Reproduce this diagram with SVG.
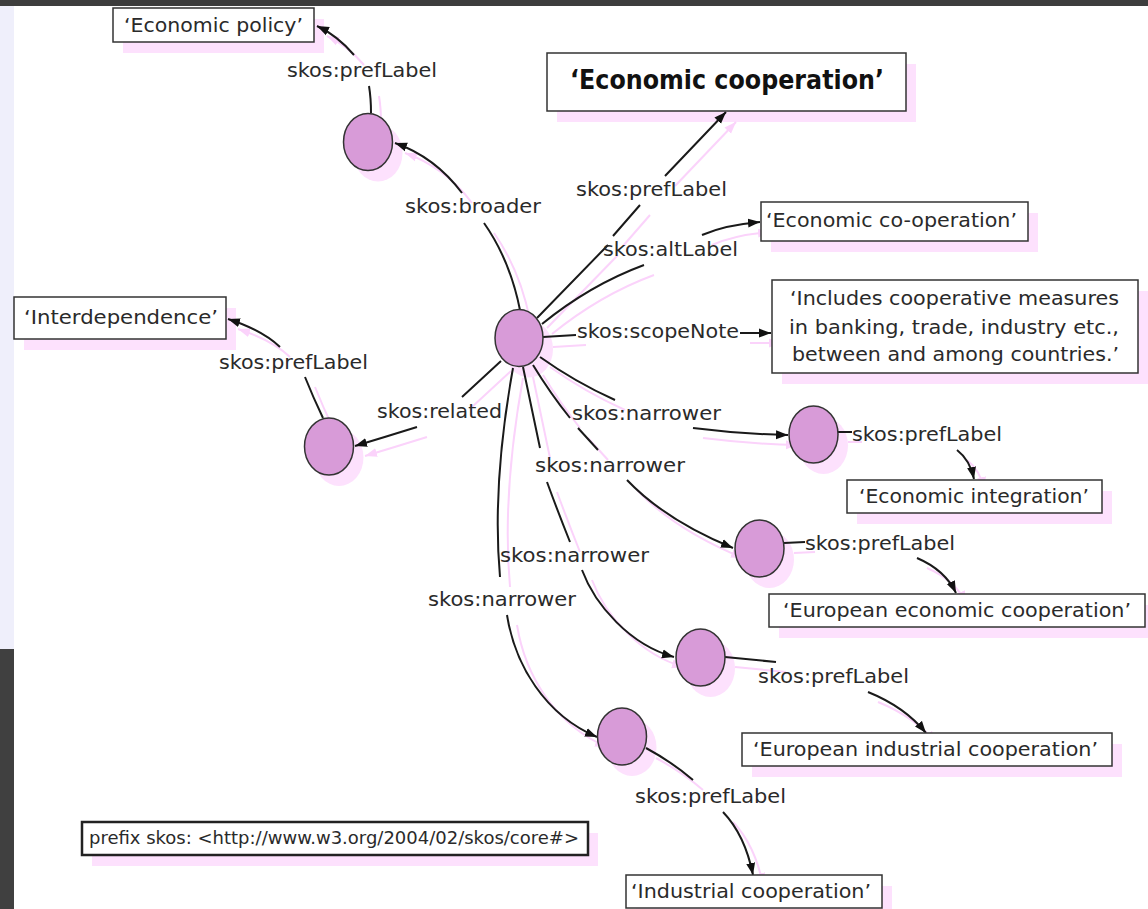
<svg xmlns="http://www.w3.org/2000/svg" xmlns:xlink="http://www.w3.org/1999/xlink" width="1148" height="909" viewBox="0 0 1148 909">
<style>
.t{font-family:"DejaVu Sans",Verdana,sans-serif;font-size:20px;fill:#2a2a2a}
.tb{font-family:"DejaVu Sans",Verdana,sans-serif;font-size:27px;font-weight:bold;fill:#111}
.tp{font-family:"DejaVu Sans",Verdana,sans-serif;font-size:17px;fill:#2a2a2a}
.box{fill:#fff;stroke:#333;stroke-width:1.5}
.node{fill:#d89bd8;stroke:#333;stroke-width:1.5}
.sh{fill:#fde1fd;stroke:none}
</style>
<defs>
<marker id="ah" markerUnits="userSpaceOnUse" markerWidth="12" markerHeight="10" viewBox="0 0 12 10" refX="12" refY="5" orient="auto">
<path d="M0 0.5 L12 5 L0 9.5 z" fill="#111"/>
</marker>
<marker id="ahp" markerUnits="userSpaceOnUse" markerWidth="12" markerHeight="10" viewBox="0 0 12 10" refX="12" refY="5" orient="auto">
<path d="M0 0.5 L12 5 L0 9.5 z" fill="#fbd3fb"/>
</marker>
</defs>

<rect x="0" y="0" width="1148" height="909" fill="#fff"/>
<rect x="0" y="0" width="1148" height="6" fill="#3d3d3d"/>
<rect x="0" y="6" width="14" height="643" fill="#efeffb"/>
<rect x="0" y="649" width="14" height="260" fill="#404040"/>

<g id="shadows">
<g class="sh" transform="translate(10,11)">
<rect x="113" y="8" width="201" height="34"/>
<rect x="547" y="53" width="359" height="58"/>
<rect x="761" y="202" width="267" height="39"/>
<rect x="772" y="280" width="366" height="93"/>
<rect x="14" y="297" width="212" height="42"/>
<rect x="847" y="480" width="255" height="33"/>
<rect x="769" y="594" width="376" height="33"/>
<rect x="742" y="733" width="370" height="33"/>
<rect x="626" y="875" width="256" height="33"/>
<rect x="82" y="822" width="506" height="33"/>
<ellipse cx="519" cy="338" rx="24" ry="28.5"/>
<ellipse cx="368" cy="142" rx="24.5" ry="28.5"/>
<ellipse cx="329" cy="446.5" rx="24.5" ry="28.5"/>
<ellipse cx="813.5" cy="434.5" rx="24.5" ry="28.5"/>
<ellipse cx="759.5" cy="548.5" rx="24.5" ry="28.5"/>
<ellipse cx="700.5" cy="657.5" rx="24.5" ry="28.5"/>
<ellipse cx="622" cy="736.5" rx="24.5" ry="28.5"/>
</g>
<g id="connector-shadows" transform="translate(10,10)" fill="none" stroke="#fbd3fb" stroke-width="2" marker-end="url(#ahp)">
<use href="#edges" xlink:href="#edges"/>
</g>
</g>

<g id="connectors" fill="none" stroke="#1a1a1a" stroke-width="2" marker-end="url(#ah)">
<g id="edges">
<path id="e-policy" d="M371 113 Q371 98 369 86 M354 55 Q338 36 317 26"/>
<path id="e-broader" d="M520 310 Q510 260 484 223 M462 193 Q435 157 395 143"/>
<path id="e-pref" d="M537 318 L608 245 M613 236 L640 205 M665 176 L726 112"/>
<path id="e-alt" d="M542 324 Q590 285 644 265 M702 235 Q725 225 760 222"/>
<path id="e-scope" d="M543 337 L576 335 M740 333 L771 333"/>
<path id="e-related" d="M501 361 L462 397 M417 427 Q385 437 355 446"/>
<path id="e-interdep" d="M323 418 Q313 397 305 377 M280 347 Q262 330 228 319"/>
<path id="e-n1" d="M540 357 Q575 382 615 400 M693 428 Q740 434 788 435"/>
<path id="e-n2" d="M533 365 Q550 393 570 418 M578 428 L598 450 M627 480 Q665 520 733 548"/>
<path id="e-n3" d="M523 367 L540 448 M547 482 Q558 512 570 542 M582 570 C595 605 630 645 674 657"/>
<path id="e-n4" d="M513 368 C500 440 494 510 500 577 M507 615 C515 665 545 715 597 737"/>
<path id="e-c-pref" d="M838 432 L852 432 M957 450 Q970 460 974 479"/>
<path id="e-d-pref" d="M784 543 L805 542 M917 558 Q945 570 956 593"/>
<path id="e-e-pref" d="M725 657 L776 662 M868 692 Q905 707 926 733"/>
<path id="e-f-pref" d="M646 748 Q672 762 693 780 M723 812 Q745 835 753 875"/>
</g>
</g>

<g id="edge-labels" class="t">
<text x="287" y="77" textLength="150" lengthAdjust="spacingAndGlyphs">skos:prefLabel</text>
<text x="405" y="213" textLength="136" lengthAdjust="spacingAndGlyphs">skos:broader</text>
<text x="576" y="196" textLength="151" lengthAdjust="spacingAndGlyphs">skos:prefLabel</text>
<text x="603" y="256" textLength="135" lengthAdjust="spacingAndGlyphs">skos:altLabel</text>
<text x="577" y="338" textLength="162" lengthAdjust="spacingAndGlyphs">skos:scopeNote</text>
<text x="219" y="369" textLength="149" lengthAdjust="spacingAndGlyphs">skos:prefLabel</text>
<text x="377" y="418" textLength="125" lengthAdjust="spacingAndGlyphs">skos:related</text>
<text x="572" y="420" textLength="149" lengthAdjust="spacingAndGlyphs">skos:narrower</text>
<text x="852" y="441" textLength="150" lengthAdjust="spacingAndGlyphs">skos:prefLabel</text>
<text x="535" y="472" textLength="150" lengthAdjust="spacingAndGlyphs">skos:narrower</text>
<text x="805" y="550" textLength="150" lengthAdjust="spacingAndGlyphs">skos:prefLabel</text>
<text x="500" y="562" textLength="149" lengthAdjust="spacingAndGlyphs">skos:narrower</text>
<text x="428" y="606" textLength="148" lengthAdjust="spacingAndGlyphs">skos:narrower</text>
<text x="758" y="683" textLength="151" lengthAdjust="spacingAndGlyphs">skos:prefLabel</text>
<text x="635" y="803" textLength="151" lengthAdjust="spacingAndGlyphs">skos:prefLabel</text>
</g>

<g id="node-hub"><ellipse class="node" cx="519" cy="338" rx="24" ry="28.5"/></g>
<g id="node-broader"><ellipse class="node" cx="368" cy="142" rx="24.5" ry="28.5"/></g>
<g id="node-related"><ellipse class="node" cx="329" cy="446.5" rx="24.5" ry="28.5"/></g>
<g id="node-narrower-1"><ellipse class="node" cx="813.5" cy="434.5" rx="24.5" ry="28.5"/></g>
<g id="node-narrower-2"><ellipse class="node" cx="759.5" cy="548.5" rx="24.5" ry="28.5"/></g>
<g id="node-narrower-3"><ellipse class="node" cx="700.5" cy="657.5" rx="24.5" ry="28.5"/></g>
<g id="node-narrower-4"><ellipse class="node" cx="622" cy="736.5" rx="24.5" ry="28.5"/></g>

<g id="box-economic-policy">
<rect class="box" x="113" y="8" width="201" height="34"/>
<text class="t" x="124" y="32" textLength="179" lengthAdjust="spacingAndGlyphs">‘Economic policy’</text>
</g>
<g id="box-economic-cooperation">
<rect class="box" x="547" y="53" width="359" height="58"/>
<text class="tb" x="570" y="89" textLength="314" lengthAdjust="spacingAndGlyphs">‘Economic cooperation’</text>
</g>
<g id="box-economic-co-operation">
<rect class="box" x="761" y="202" width="267" height="39"/>
<text class="t" x="766" y="227" textLength="251" lengthAdjust="spacingAndGlyphs">‘Economic co-operation’</text>
</g>
<g id="box-scope-note">
<rect class="box" x="772" y="280" width="366" height="93"/>
<text class="t" x="790" y="305" textLength="329" lengthAdjust="spacingAndGlyphs">‘Includes cooperative measures</text>
<text class="t" x="789" y="334" textLength="330" lengthAdjust="spacingAndGlyphs">in banking, trade, industry etc.,</text>
<text class="t" x="792" y="361" textLength="327" lengthAdjust="spacingAndGlyphs">between and among countries.’</text>
</g>
<g id="box-interdependence">
<rect class="box" x="14" y="297" width="212" height="42"/>
<text class="t" x="24" y="324" textLength="194" lengthAdjust="spacingAndGlyphs">‘Interdependence’</text>
</g>
<g id="box-economic-integration">
<rect class="box" x="847" y="480" width="255" height="33"/>
<text class="t" x="859" y="503" textLength="230" lengthAdjust="spacingAndGlyphs">‘Economic integration’</text>
</g>
<g id="box-european-economic-cooperation">
<rect class="box" x="769" y="594" width="376" height="33"/>
<text class="t" x="783" y="617" textLength="348" lengthAdjust="spacingAndGlyphs">‘European economic cooperation’</text>
</g>
<g id="box-european-industrial-cooperation">
<rect class="box" x="742" y="733" width="370" height="33"/>
<text class="t" x="753" y="756" textLength="345" lengthAdjust="spacingAndGlyphs">‘European industrial cooperation’</text>
</g>
<g id="box-industrial-cooperation">
<rect class="box" x="626" y="875" width="256" height="33"/>
<text class="t" x="631" y="898" textLength="240" lengthAdjust="spacingAndGlyphs">‘Industrial cooperation’</text>
</g>
<g id="box-prefix">
<rect x="82" y="822" width="506" height="33" fill="#fff" stroke="#222" stroke-width="2.5"/>
<text class="tp" x="89" y="844" textLength="490" lengthAdjust="spacingAndGlyphs">prefix skos: &lt;http://www.w3.org/2004/02/skos/core#&gt;</text>
</g>
</svg>
